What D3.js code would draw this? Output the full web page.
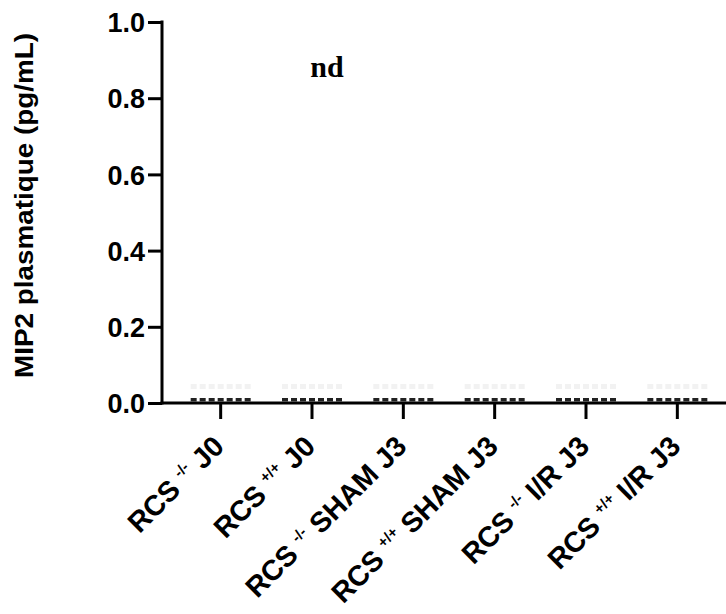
<!DOCTYPE html>
<html><head><meta charset="utf-8">
<script src="https://cdn.jsdelivr.net/npm/d3@7"></script>
<style>
html,body{margin:0;padding:0;background:#fff;}
svg{display:block;}
</style></head>
<body>
<svg id="chart" width="726" height="614"></svg>
<script>
// ---- data ----
const categories = ["RCS -/- J0","RCS +/+ J0","RCS -/- SHAM J3","RCS +/+ SHAM J3","RCS -/- I/R J3","RCS +/+ I/R J3"];
const labelMain = ["RCS","RCS","RCS","RCS","RCS","RCS"];
const labelSup = ["-/-","+/+","-/-","+/+","-/-","+/+"];
const labelTail = ["J0","J0","SHAM J3","SHAM J3","I/R J3","I/R J3"];
const values = [
  [0,0,0,0,0,0,0],
  [0,0,0,0,0,0,0],
  [0,0,0,0,0,0,0],
  [0,0,0,0,0,0,0],
  [0,0,0,0,0,0,0],
  [0,0,0,0,0,0,0]
];
const yTicks = [0.0,0.2,0.4,0.6,0.8,1.0];
const yLabel = "MIP2 plasmatique (pg/mL)";
const annotation = "nd";

// ---- drawing ----
const svg = d3.select("#chart");
const axisX0 = 162, axisXEnd = 726;
const x = d3.scaleBand().domain(categories).range([175, 723]);
const y = d3.scaleLinear().domain([0, 1]).range([403, 22]);

// y axis
const gy = svg.append("g").attr("transform", `translate(${axisX0},0)`)
  .call(d3.axisLeft(y).tickValues(yTicks).tickFormat(d3.format(".1f")).tickSize(14).tickPadding(3).tickSizeOuter(0));
gy.select(".domain").remove();
gy.selectAll(".tick line").attr("stroke", "#000").attr("stroke-width", 3);
gy.selectAll(".tick text").attr("font-family", "Liberation Sans, Arial, sans-serif")
  .attr("font-weight", "bold").attr("font-size", 27).attr("fill", "#000").attr("dy", "0.36em");
svg.append("line").attr("x1", axisX0).attr("x2", axisX0).attr("y1", y(1) - 1.5).attr("y2", y(0) + 1.5)
  .attr("stroke", "#000").attr("stroke-width", 3);

// x axis
const gx = svg.append("g").attr("transform", `translate(0,${y(0)})`)
  .call(d3.axisBottom(x).tickSize(16).tickFormat("").tickSizeOuter(0));
gx.select(".domain").remove();
gx.selectAll(".tick line").attr("stroke", "#000").attr("stroke-width", 3);
svg.append("line").attr("x1", axisX0 - 1.5).attr("x2", axisXEnd).attr("y1", y(0)).attr("y2", y(0))
  .attr("stroke", "#000").attr("stroke-width", 3);

// x labels
const cx = c => x(c) + x.bandwidth() / 2;
const lab = svg.append("g").selectAll("text").data(categories).join("text")
  .attr("transform", c => `translate(${cx(c) + 5},448) rotate(-45)`)
  .attr("text-anchor", "end")
  .attr("font-family", "Liberation Sans, Arial, sans-serif")
  .attr("font-weight", "bold").attr("font-size", 28.5).attr("fill", "#000");
lab.append("tspan").text((c, i) => labelMain[i] + " ");
lab.append("tspan").attr("font-size", 15).attr("dy", -11).text((c, i) => labelSup[i]);
lab.append("tspan").attr("dy", 11).text((c, i) => " " + labelTail[i]);

// points (all zero)
const ptW = 6, ptGap = 9;
categories.forEach((c, gi) => {
  const vals = values[gi];
  const n = vals.length;
  const g = svg.append("g");
  // faint ghost row
  g.selectAll("rect.ghost").data(vals).join("rect").attr("class", "ghost")
    .attr("x", (d, i) => cx(c) + (i - (n - 1) / 2) * ptGap - ptW / 2)
    .attr("y", d => y(d) - 19).attr("width", ptW).attr("height", 5)
    .attr("fill", "#f2f2f2");
  g.selectAll("rect.pt").data(vals).join("rect").attr("class", "pt")
    .attr("x", (d, i) => cx(c) + (i - (n - 1) / 2) * ptGap - ptW / 2)
    .attr("y", d => y(d) - 5).attr("width", ptW).attr("height", 3.5)
    .attr("fill", "#222");
});

// y label
svg.append("text")
  .attr("transform", `translate(33,${(y(0) + y(1)) / 2 - 7}) rotate(-90)`)
  .attr("text-anchor", "middle")
  .attr("font-family", "Liberation Sans, Arial, sans-serif")
  .attr("font-weight", "bold").attr("font-size", 26)
  .attr("textLength", 345).attr("lengthAdjust", "spacingAndGlyphs")
  .attr("fill", "#000").text(yLabel);

// annotation
svg.append("text")
  .attr("x", cx(categories[1]) + 15).attr("y", y(0.855))
  .attr("text-anchor", "middle")
  .attr("font-family", "Liberation Serif, Times New Roman, serif")
  .attr("font-weight", "bold").attr("font-size", 30).attr("fill", "#000")
  .text(annotation);
</script>
</body></html>
